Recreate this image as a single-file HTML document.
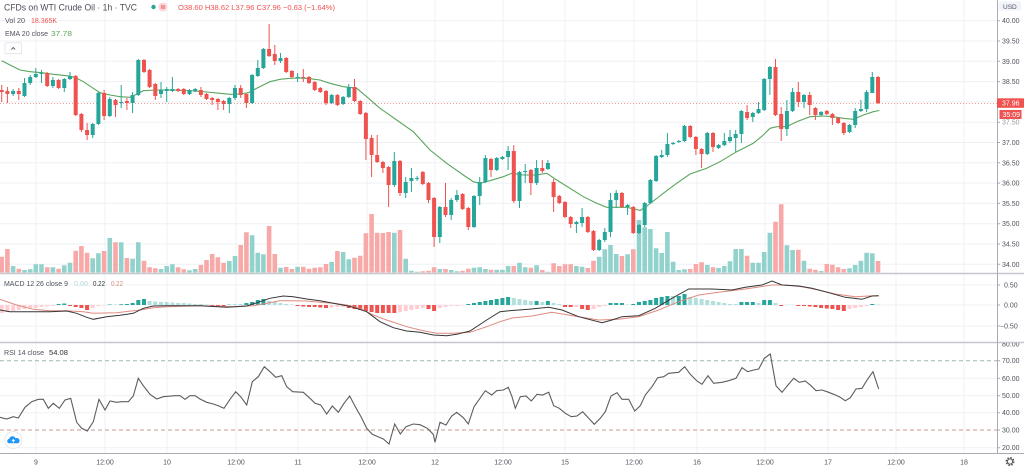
<!DOCTYPE html>
<html><head><meta charset="utf-8"><style>
html,body{margin:0;padding:0;background:#fff;width:1024px;height:470px;overflow:hidden}
svg{display:block}
text{font-family:"Liberation Sans",Arial,sans-serif}
.ax{font-size:7px;fill:#50535e}
</style></head><body>
<svg width="1024" height="470" viewBox="0 0 1024 470" xmlns="http://www.w3.org/2000/svg">
<defs>
<clipPath id="cm"><rect x="0" y="0" width="997" height="273"/></clipPath>
<clipPath id="cd"><rect x="0" y="274" width="997" height="68"/></clipPath>
<clipPath id="cr"><rect x="0" y="343" width="1024" height="110"/></clipPath>
</defs>
<rect width="1024" height="470" fill="#fff"/>
<!-- vertical grid -->
<g stroke="#eef0f5" stroke-width="1">
<path d="M36 0V453M105 0V453M167 0V453M236 0V453M298 0V453M367 0V453M435 0V453M503 0V453M565 0V453M634 0V453M697 0V453M765 0V453M828 0V453M896 0V453M964 0V453"/>
<!-- main horizontal grid -->
<path d="M0 20.7H997M0 41H997M0 61.3H997M0 81.6H997M0 101.9H997M0 122.2H997M0 142.5H997M0 162.8H997M0 183.1H997M0 203.4H997M0 223.7H997M0 244H997M0 264.3H997"/>
<!-- macd grid -->
<path d="M0 285H997M0 305H997M0 326H997"/>
<!-- rsi grid -->
<path d="M0 378.3H997M0 395.7H997M0 412.7H997M0 447.7H997"/>
</g>

<g clip-path="url(#cm)">
<!-- volume -->
<path fill="#92d2cc" d="M10.8 266h4.6V272.5h-4.6zM22.2 270h4.6V272.5h-4.6zM27.9 269.3h4.6V272.5h-4.6zM33.5 264.3h4.6V272.5h-4.6zM39.2 264.3h4.6V272.5h-4.6zM50.6 267.3h4.6V272.5h-4.6zM62 265.3h4.6V272.5h-4.6zM67.7 262.7h4.6V272.5h-4.6zM90.4 258.3h4.6V272.5h-4.6zM96.1 253.3h4.6V272.5h-4.6zM107.5 238h4.6V272.5h-4.6zM118.9 242.3h4.6V272.5h-4.6zM130.3 258.7h4.6V272.5h-4.6zM136 242.3h4.6V272.5h-4.6zM158.7 269h4.6V272.5h-4.6zM164.4 266h4.6V272.5h-4.6zM170.1 264.3h4.6V272.5h-4.6zM187.2 270.3h4.6V272.5h-4.6zM192.9 269h4.6V272.5h-4.6zM227 261h4.6V272.5h-4.6zM232.7 256h4.6V272.5h-4.6zM249.8 235.3h4.6V272.5h-4.6zM255.5 252.7h4.6V272.5h-4.6zM261.1 254.3h4.6V272.5h-4.6zM278.2 267.7h4.6V272.5h-4.6zM295.3 266.7h4.6V272.5h-4.6zM329.4 262h4.6V272.5h-4.6zM340.8 252h4.6V272.5h-4.6zM346.5 259.3h4.6V272.5h-4.6zM392 232.7h4.6V272.5h-4.6zM403.4 258.7h4.6V272.5h-4.6zM409.1 270.7h4.6V272.5h-4.6zM414.8 271.7h4.6V272.5h-4.6zM437.5 269h4.6V272.5h-4.6zM448.9 270h4.6V272.5h-4.6zM454.6 271.3h4.6V272.5h-4.6zM471.7 267.7h4.6V272.5h-4.6zM477.4 267.3h4.6V272.5h-4.6zM483.1 269h4.6V272.5h-4.6zM494.4 269.7h4.6V272.5h-4.6zM500.1 269.7h4.6V272.5h-4.6zM505.8 266h4.6V272.5h-4.6zM517.2 262.7h4.6V272.5h-4.6zM522.9 267.3h4.6V272.5h-4.6zM534.3 265.3h4.6V272.5h-4.6zM545.6 271.7h4.6V272.5h-4.6zM574.1 266h4.6V272.5h-4.6zM579.8 266.7h4.6V272.5h-4.6zM596.9 256.7h4.6V272.5h-4.6zM602.5 249.3h4.6V272.5h-4.6zM608.2 245h4.6V272.5h-4.6zM613.9 254h4.6V272.5h-4.6zM625.3 254.3h4.6V272.5h-4.6zM636.7 220h4.6V272.5h-4.6zM642.4 227.3h4.6V272.5h-4.6zM648.1 229h4.6V272.5h-4.6zM653.8 248.3h4.6V272.5h-4.6zM659.4 253h4.6V272.5h-4.6zM665.1 232h4.6V272.5h-4.6zM670.8 261.7h4.6V272.5h-4.6zM676.5 270h4.6V272.5h-4.6zM682.2 269.3h4.6V272.5h-4.6zM705 265h4.6V272.5h-4.6zM716.3 268h4.6V272.5h-4.6zM722 266h4.6V272.5h-4.6zM727.7 261.3h4.6V272.5h-4.6zM733.4 249h4.6V272.5h-4.6zM739.1 249h4.6V272.5h-4.6zM750.5 262.7h4.6V272.5h-4.6zM756.2 262.7h4.6V272.5h-4.6zM761.9 252h4.6V272.5h-4.6zM767.6 232.7h4.6V272.5h-4.6zM784.6 245.3h4.6V272.5h-4.6zM790.3 250h4.6V272.5h-4.6zM801.7 260.7h4.6V272.5h-4.6zM818.8 271h4.6V272.5h-4.6zM847.2 268.3h4.6V272.5h-4.6zM852.9 265h4.6V272.5h-4.6zM858.6 260.7h4.6V272.5h-4.6zM864.3 252.7h4.6V272.5h-4.6zM870 253.3h4.6V272.5h-4.6z"/>
<path fill="#f7a9a7" d="M-0.6 256.7h4.6V272.5h-4.6zM5.1 249h4.6V272.5h-4.6zM16.5 268.7h4.6V272.5h-4.6zM44.9 267.3h4.6V272.5h-4.6zM56.3 268.7h4.6V272.5h-4.6zM73.4 250.7h4.6V272.5h-4.6zM79.1 246h4.6V272.5h-4.6zM84.8 252.7h4.6V272.5h-4.6zM101.8 251h4.6V272.5h-4.6zM113.2 242.3h4.6V272.5h-4.6zM124.6 258h4.6V272.5h-4.6zM141.7 260.7h4.6V272.5h-4.6zM147.3 267.3h4.6V272.5h-4.6zM153 268.3h4.6V272.5h-4.6zM175.8 267.3h4.6V272.5h-4.6zM181.5 269.3h4.6V272.5h-4.6zM198.6 265h4.6V272.5h-4.6zM204.2 260h4.6V272.5h-4.6zM209.9 254h4.6V272.5h-4.6zM215.6 257.3h4.6V272.5h-4.6zM221.3 262.7h4.6V272.5h-4.6zM238.4 245h4.6V272.5h-4.6zM244.1 232.3h4.6V272.5h-4.6zM266.8 226h4.6V272.5h-4.6zM272.5 254h4.6V272.5h-4.6zM283.9 267h4.6V272.5h-4.6zM289.6 269h4.6V272.5h-4.6zM301 266.7h4.6V272.5h-4.6zM306.7 268.7h4.6V272.5h-4.6zM312.4 267.7h4.6V272.5h-4.6zM318 267.3h4.6V272.5h-4.6zM323.7 264h4.6V272.5h-4.6zM335.1 251h4.6V272.5h-4.6zM352.2 257.7h4.6V272.5h-4.6zM357.9 255.7h4.6V272.5h-4.6zM363.6 233.3h4.6V272.5h-4.6zM369.3 214h4.6V272.5h-4.6zM374.9 232.7h4.6V272.5h-4.6zM380.6 233h4.6V272.5h-4.6zM386.3 232h4.6V272.5h-4.6zM397.7 230h4.6V272.5h-4.6zM420.5 271.3h4.6V272.5h-4.6zM426.2 270.7h4.6V272.5h-4.6zM431.8 267.3h4.6V272.5h-4.6zM443.2 269h4.6V272.5h-4.6zM460.3 270.7h4.6V272.5h-4.6zM466 268.7h4.6V272.5h-4.6zM488.7 269.7h4.6V272.5h-4.6zM511.5 266h4.6V272.5h-4.6zM528.6 267.7h4.6V272.5h-4.6zM540 270h4.6V272.5h-4.6zM551.3 263.3h4.6V272.5h-4.6zM557 266h4.6V272.5h-4.6zM562.7 264.3h4.6V272.5h-4.6zM568.4 264.3h4.6V272.5h-4.6zM585.5 268h4.6V272.5h-4.6zM591.2 260.7h4.6V272.5h-4.6zM619.6 256h4.6V272.5h-4.6zM631 249.3h4.6V272.5h-4.6zM687.9 269h4.6V272.5h-4.6zM693.6 264h4.6V272.5h-4.6zM699.3 262.3h4.6V272.5h-4.6zM710.7 267.3h4.6V272.5h-4.6zM744.8 255.7h4.6V272.5h-4.6zM773.2 221.7h4.6V272.5h-4.6zM778.9 204.3h4.6V272.5h-4.6zM796 249.7h4.6V272.5h-4.6zM807.4 268.7h4.6V272.5h-4.6zM813.1 269.7h4.6V272.5h-4.6zM824.5 264h4.6V272.5h-4.6zM830.1 264.7h4.6V272.5h-4.6zM835.8 267.3h4.6V272.5h-4.6zM841.5 269h4.6V272.5h-4.6zM875.7 261h4.6V272.5h-4.6z"/>

<!-- price line -->
<path d="M0 103.5H997" stroke="#ef5350" stroke-opacity=".6" stroke-width="1" stroke-dasharray="1 2"/>

<!-- EMA -->
<polyline fill="none" stroke="#5aa65c" stroke-width="1.1" points="1.7,60.7 10,65 20,70 30,71.7 41.7,72.7 53.3,74.3 66.7,75.7 75,77.3 83.3,81.7 93.3,88.3 100,92.7 110,95 120,96.7 130,97.3 135,95 143.3,90.7 156.7,90 173.3,90 193.3,91 206.7,92 220,93.3 230,94.3 240,94 248.3,92.7 253.3,90 263.3,85 270,81.7 280,79.3 290,78.3 300,78 310,78.7 320,80 330,83.3 343.3,86.7 356.7,88.3 366.7,96.7 380,108.3 396.7,120 413.3,131.7 430,150 446.7,163.3 463.3,175 473.3,181.7 480,183.3 490,180.7 503.3,176.7 511.7,173.3 523.3,175 536.7,175 546.7,173.3 556.7,180 570,188.3 583.3,196.7 596.7,203.3 606.7,207.3 616.7,207.3 626.7,207.3 636.7,209.5 640,210.5 645,207.5 650,203.5 656.7,198.5 663.3,193.3 676.7,183.3 690,174 706.7,168.3 720,161.7 736.7,151.7 753.3,143.3 763.3,135 770,128.3 776.7,126.7 786.7,126.7 796.7,121.7 810,116.7 823.3,116 833.3,116.7 843.3,118.3 853.3,119.3 863.3,115 873.3,111.7 879.3,110.5"/>

<!-- green candles -->
<path stroke="#26a69a" stroke-width="1" fill="none" d="M13.1 89V96M24.5 78V97M30.2 75V85M35.8 68V78M41.5 70V83M52.9 77V88M64.3 78V92M70 72V80M92.7 123V138M98.4 92V125M109.8 97V117M121.2 85V108M132.6 92V113M138.3 59V96M161 82V98M166.7 87V102M172.4 77V92M189.5 89V95M195.2 88V92M229.3 97V113M235 85V100M252.1 74V104M257.8 60V77M263.4 48V69M280.5 53V63M297.6 73V82M331.7 94V104M343.1 96V105M348.8 84V98M394.3 152V187M405.7 177V198M411.4 168V192M417.1 176V181M439.8 206V243M451.2 198V220M456.9 190V202M474 195V228M479.7 177V205M485.4 155V183M496.7 157V171M502.4 156V160M508.1 146V170M519.5 171V208M525.2 164V183M536.6 160V185M547.9 160V170M576.4 221V233M582.1 208V227M599.2 239V251M604.8 228V242M610.5 193V237M616.2 190V208M627.6 204V215M639 224V234M644.7 202V227M650.4 179V204M656.1 155V182M661.7 150V158M667.4 133V157M673.1 142V145M678.8 140V143M684.5 125V142M707.3 132V155M718.6 144V149M724.3 133V146M730 130V143M735.7 130V152M741.4 110V143M752.8 112V122M758.5 102V114M764.2 78V111M769.9 66V95M786.9 100V136M792.6 88V112M804 94V108M821.1 111V116M849.5 124V133M855.2 108V128M860.9 100V112M866.6 90V112M872.3 72V93"/>
<path fill="#26a69a" d="M11.1 91h4v3h-4zM22.5 83h4v13h-4zM28.2 77h4v6h-4zM33.8 74h4v3h-4zM39.5 73h4v1h-4zM50.9 80h4v6h-4zM62.3 79h4v9h-4zM68 76h4v3h-4zM90.7 124h4v11h-4zM96.4 93h4v31h-4zM107.8 99h4v17h-4zM119.2 102h4v1h-4zM130.6 95h4v8h-4zM136.3 60h4v35h-4zM159 90h4v4h-4zM164.7 89h4v2h-4zM170.4 89h4v2h-4zM187.5 90h4v4h-4zM193.2 89h4v2h-4zM227.3 98h4v6h-4zM233 88h4v10h-4zM250.1 75h4v28h-4zM255.8 68h4v8h-4zM261.4 49h4v19h-4zM278.5 58h4v3h-4zM295.6 77h4v1h-4zM329.7 95h4v8h-4zM341.1 97h4v7h-4zM346.8 87h4v10h-4zM392.3 161h4v24h-4zM403.7 182h4v11h-4zM409.4 178h4v3h-4zM415.1 178h4v1h-4zM437.8 207h4v30h-4zM449.2 200h4v15h-4zM454.9 195h4v5h-4zM472 196h4v31h-4zM477.7 182h4v14h-4zM483.4 158h4v24h-4zM494.7 158h4v12h-4zM500.4 157h4v2h-4zM506.1 151h4v6h-4zM517.5 172h4v29h-4zM523.2 171h4v1h-4zM534.6 168h4v15h-4zM545.9 163h4v6h-4zM574.4 222h4v2h-4zM580.1 217h4v6h-4zM597.2 240h4v10h-4zM602.8 232h4v8h-4zM608.5 200h4v32h-4zM614.2 193h4v7h-4zM625.6 205h4v2h-4zM637 225h4v8h-4zM642.7 203h4v22h-4zM648.4 180h4v23h-4zM654.1 156h4v25h-4zM659.7 155h4v2h-4zM665.4 144h4v11h-4zM671.1 143h4v1h-4zM676.8 141h4v1h-4zM682.5 126h4v15h-4zM705.3 133h4v21h-4zM716.6 145h4v3h-4zM722.3 141h4v4h-4zM728 137h4v4h-4zM733.7 134h4v4h-4zM739.4 111h4v23h-4zM750.8 113h4v4h-4zM756.5 109h4v4h-4zM762.2 79h4v31h-4zM767.9 67h4v12h-4zM784.9 111h4v18h-4zM790.6 92h4v19h-4zM802 95h4v7h-4zM819.1 112h4v3h-4zM847.5 125h4v7h-4zM853.2 111h4v14h-4zM858.9 109h4v2h-4zM864.6 92h4v17h-4zM870.3 77h4v16h-4z"/>
<!-- red candles -->
<path stroke="#ef5350" stroke-width="1" fill="none" d="M1.7 85V102M7.4 87V103M18.8 88V100M47.2 72V87M58.6 79V89M75.7 75V116M81.4 113V132M87.1 123V140M104.1 90V120M115.5 99V117M126.9 98V110M144 59V73M149.6 69V88M155.3 83V100M178.1 88V92M183.8 88V95M200.9 87V97M206.5 93V100M212.2 97V105M217.9 98V110M223.6 100V110M240.7 85V98M246.4 93V108M269.1 24V57M274.8 45V65M286.2 57V73M291.9 70V78M303.3 69V82M309 76V84M314.7 81V91M320.3 87V93M326 90V105M337.4 94V106M354.5 79V102M360.2 100V115M365.9 112V160M371.6 135V177M377.2 135V163M382.9 161V173M388.6 166V207M400 160V196M422.8 171V185M428.5 182V203M434.1 197V247M445.5 183V217M462.6 193V210M468.3 207V230M491 158V177M513.8 145V203M530.9 169V195M542.3 160V173M553.6 179V212M559.3 195V204M565 201V218M570.7 216V228M587.8 216V233M593.5 230V251M621.9 192V208M633.3 206V234M690.2 125V138M695.9 136V155M701.6 148V168M713 132V152M747.1 105V120M775.5 59V116M781.2 107V141M798.3 82V107M809.7 92V115M815.4 107V120M826.8 110V115M832.4 113V125M838.1 117V124M843.8 122V135M878 76V104"/>
<path fill="#ef5350" d="M-0.3 90h4v2h-4zM5.4 91h4v3h-4zM16.8 91h4v3h-4zM45.2 73h4v13h-4zM56.6 80h4v8h-4zM73.7 76h4v39h-4zM79.4 114h4v16h-4zM85.1 130h4v5h-4zM102.1 93h4v23h-4zM113.5 100h4v5h-4zM124.9 101h4v2h-4zM142 60h4v12h-4zM147.6 70h4v17h-4zM153.3 84h4v12h-4zM176.1 89h4v2h-4zM181.8 89h4v5h-4zM198.9 90h4v5h-4zM204.5 94h4v5h-4zM210.2 98h4v2h-4zM215.9 99h4v3h-4zM221.6 101h4v3h-4zM238.7 88h4v7h-4zM244.4 94h4v9h-4zM267.1 49h4v7h-4zM272.8 54h4v7h-4zM284.2 58h4v14h-4zM289.9 71h4v6h-4zM301.3 77h4v1h-4zM307 77h4v6h-4zM312.7 82h4v8h-4zM318.3 88h4v4h-4zM324 91h4v12h-4zM335.4 95h4v10h-4zM352.5 87h4v14h-4zM358.2 101h4v13h-4zM363.9 113h4v26h-4zM369.6 138h4v17h-4zM375.2 155h4v7h-4zM380.9 162h4v6h-4zM386.6 167h4v18h-4zM398 161h4v32h-4zM420.8 172h4v12h-4zM426.5 183h4v17h-4zM432.1 198h4v39h-4zM443.5 207h4v8h-4zM460.6 194h4v15h-4zM466.3 208h4v19h-4zM489 159h4v11h-4zM511.8 151h4v50h-4zM528.9 170h4v13h-4zM540.3 168h4v3h-4zM551.6 182h4v15h-4zM557.3 196h4v7h-4zM563 202h4v15h-4zM568.7 217h4v7h-4zM585.8 217h4v15h-4zM591.5 231h4v19h-4zM619.9 193h4v14h-4zM631.3 207h4v26h-4zM688.2 126h4v11h-4zM693.9 137h4v12h-4zM699.6 149h4v5h-4zM711 133h4v14h-4zM745.1 112h4v6h-4zM773.5 67h4v48h-4zM779.2 114h4v15h-4zM796.3 92h4v10h-4zM807.7 95h4v10h-4zM813.4 108h4v7h-4zM824.8 111h4v3h-4zM830.4 114h4v4h-4zM836.1 118h4v5h-4zM841.8 123h4v10h-4zM876 77h4v26h-4z"/>
</g>

<!-- MACD pane -->
<g clip-path="url(#cd)">
<path fill="#ffcdd2" d="M-0.3 305h4v8h-4zM5.4 305h4v7h-4zM11.1 305h4v6h-4zM16.8 305h4v5h-4zM22.5 305h4v4h-4zM28.2 305h4v3h-4zM33.8 305h4v3h-4zM39.5 305h4v2h-4zM45.2 305h4v1.5h-4zM50.9 305h4v1h-4zM90.7 305h4v3h-4zM96.4 305h4v1h-4zM102.1 305h4v.5h-4zM329.7 305h4v2.5h-4zM335.4 305h4v2h-4zM341.1 305h4v2h-4zM398 305h4v7h-4zM403.7 305h4v6h-4zM409.4 305h4v5h-4zM415.1 305h4v4h-4zM420.8 305h4v3h-4zM437.8 305h4v3h-4zM443.5 305h4v2h-4zM449.2 305h4v1h-4zM454.9 305h4v1h-4zM460.6 305h4v.5h-4zM574.4 305h4v2h-4zM591.5 305h4v4h-4zM597.2 305h4v2h-4zM602.8 305h4v1h-4zM847.5 305h4v4h-4zM853.2 305h4v3h-4zM858.9 305h4v2h-4zM864.6 305h4v1h-4z"/>
<path fill="#ef5350" d="M68 305h4v1h-4zM73.7 305h4v2h-4zM79.4 305h4v3h-4zM85.1 305h4v5h-4zM210.2 305h4v1h-4zM215.9 305h4v2h-4zM221.6 305h4v2h-4zM295.6 305h4v1h-4zM301.3 305h4v1.5h-4zM307 305h4v2h-4zM312.7 305h4v2h-4zM318.3 305h4v2.5h-4zM324 305h4v3h-4zM346.8 305h4v3h-4zM352.5 305h4v4h-4zM358.2 305h4v5h-4zM363.9 305h4v6h-4zM369.6 305h4v7h-4zM375.2 305h4v8h-4zM380.9 305h4v8h-4zM386.6 305h4v8h-4zM392.3 305h4v8h-4zM426.5 305h4v4h-4zM432.1 305h4v6h-4zM563 305h4v2h-4zM568.7 305h4v2h-4zM580.1 305h4v4h-4zM585.8 305h4v5h-4zM779.2 305h4v1h-4zM796.3 305h4v1h-4zM802 305h4v1h-4zM807.7 305h4v1.5h-4zM813.4 305h4v2h-4zM819.1 305h4v3h-4zM824.8 305h4v3.5h-4zM830.4 305h4v4h-4zM836.1 305h4v5h-4zM841.8 305h4v6h-4z"/>
<path fill="#26a69a" d="M56.6 304h4v1h-4zM62.3 303.5h4v1.5h-4zM107.8 304.5h4v.5h-4zM119.2 304.3h4v.7h-4zM124.9 304h4v1h-4zM130.6 303h4v2h-4zM136.3 300h4v5h-4zM142 299h4v6h-4zM244.4 303h4v2h-4zM250.1 302h4v3h-4zM255.8 300h4v5h-4zM261.4 299h4v6h-4zM466.3 304h4v1h-4zM472 303h4v2h-4zM477.7 302h4v3h-4zM483.4 301h4v4h-4zM489 300h4v5h-4zM494.7 299h4v6h-4zM500.4 298h4v7h-4zM506.1 297h4v8h-4zM534.6 301h4v4h-4zM545.9 301h4v4h-4zM608.5 303h4v2h-4zM614.2 303h4v2h-4zM619.9 303h4v2h-4zM631.3 304h4v1h-4zM637 302h4v3h-4zM642.7 301h4v4h-4zM648.4 300h4v5h-4zM654.1 298h4v7h-4zM659.7 297h4v8h-4zM665.4 296h4v9h-4zM676.8 296h4v9h-4zM682.5 294h4v11h-4zM739.4 302h4v3h-4zM745.1 302h4v3h-4zM750.8 302h4v3h-4zM762.2 300h4v5h-4zM767.9 300h4v5h-4zM870.3 304h4v1h-4z"/>
<path fill="#b2dfdb" d="M113.5 304.5h4v.5h-4zM147.6 301h4v4h-4zM153.3 301.5h4v3.5h-4zM159 302h4v3h-4zM164.7 302h4v3h-4zM170.4 302.5h4v2.5h-4zM176.1 303h4v2h-4zM181.8 303h4v2h-4zM187.5 303.5h4v1.5h-4zM193.2 304h4v1h-4zM198.9 304h4v1h-4zM204.5 304.5h4v.5h-4zM227.3 304h4v1h-4zM233 304h4v1h-4zM238.7 304h4v1h-4zM267.1 301h4v4h-4zM272.8 302h4v3h-4zM278.5 303h4v2h-4zM284.2 304h4v1h-4zM289.9 304.5h4v.5h-4zM511.8 298h4v7h-4zM517.5 299h4v6h-4zM523.2 300h4v5h-4zM528.9 301h4v4h-4zM540.3 302h4v3h-4zM551.6 303h4v2h-4zM557.3 304h4v1h-4zM625.6 304.5h4v.5h-4zM671.1 296h4v9h-4zM688.2 297h4v8h-4zM693.9 298h4v7h-4zM699.6 299h4v6h-4zM705.3 300h4v5h-4zM711 301h4v4h-4zM716.6 302h4v3h-4zM722.3 303h4v2h-4zM728 304h4v1h-4zM733.7 304h4v1h-4zM756.5 303h4v2h-4zM773.5 303h4v2h-4zM784.9 304.7h4v.3h-4zM790.6 304.7h4v.3h-4zM876 304.5h4v.5h-4z"/>
<polyline fill="none" stroke="#e08a80" stroke-width="1" points="0,299.3 16.7,305 33.3,309.3 50,310.7 66.7,310.7 83.3,311.7 93.3,313.3 116.7,312.7 140,310 153.3,307.7 166.7,306.7 200,305.7 233.3,306.7 253.3,305.7 266.7,303.3 280,300.7 293.3,300.7 306.7,301 320,302.3 333.3,303.3 346.7,305 360,308.3 373.3,315 386.7,320 406.7,326.7 423.3,330.7 436.7,333.3 453.3,333.3 470,332.3 486.7,326.7 500,321.7 512,318 532,316 552,312.3 578.7,316.7 598.7,320 618.7,319.3 638.7,316.7 658.7,310 678.7,301.7 698.7,295 718.7,292.3 745.3,289 772,285 785.3,285 802,286.7 818.7,290 835.3,294 855.3,296.7 868.7,296 878.7,295.7"/>
<polyline fill="none" stroke="#363636" stroke-width="1" points="0,310 10,311.7 20,311.7 33.3,311.7 50,311.7 66.7,311 76.7,313.3 86.7,317.3 93.3,319.3 106.7,316.7 120,315.3 133.3,313.3 143.3,308.3 153.3,306 166.7,305.7 200,305.7 226.7,307.3 246.7,306 260,301.7 270,298.3 283.3,296 293.3,296.7 306.7,299 320,300.7 333.3,303.3 346.7,305.7 353.3,307.3 366.7,311.7 380,321.7 393.3,327.7 406.7,331 420,332.3 433.3,335 446.7,335.7 456.7,334.3 470,331 486.7,320 500,311.7 512,310.5 528.7,309.3 548.7,307.3 562,310 578.7,316.7 602,322.7 612,320 622,316.7 638.7,315.7 655.3,308.3 672,298.3 688.7,289 698.7,289 712,289 732,290 745.3,287.3 762,285 772,281 782,285 798.7,286 812,288.3 828.7,292.7 845.3,297.3 862,299.3 872,296 878.7,295.7"/>
</g>

<!-- RSI pane -->
<path d="M0 360.7H997" stroke="#9bb5b2" stroke-width="1" stroke-dasharray="4 3"/>
<path d="M0 430H997" stroke="#c99a95" stroke-width="1" stroke-dasharray="4 3"/>
<polyline fill="none" stroke="#5d5d5d" stroke-width="1.1" points="0,417.3 6.7,419 13.3,416.7 18.3,418 25,407.3 31.7,401.7 38.3,399.3 43.3,399.3 48.3,408.3 53.3,403.3 59.3,408.3 65,400 70.7,398.3 76.7,422.3 81.7,428.3 87.3,431 93.3,421.7 99,399.3 105,410 110,401 116.7,402.3 121.7,401.7 128.3,401.7 133.3,396 138.3,378.3 143.3,385.7 150,394.3 156.7,399 163.3,396.7 175,395.7 180,395.7 185,399.3 190,395.7 195,395.7 200,399 206.7,402.3 213.3,404 218.3,405.7 224,408.3 230,399.3 235.7,391.7 240.7,396.7 246.7,405 252.3,381.7 258.3,376.7 264.3,366.7 270,371.7 275.7,377.3 281.7,375.7 286.7,386.7 292.7,391.7 303.3,392.3 310,398.3 315,403.3 320.7,405 326.7,414 332.3,406 338.3,412.3 344,403.3 349.7,396 355.3,406.7 361,416.7 366.7,428.3 372.3,434.3 378,436.7 383.3,439 389,444 394.7,424 400.3,434 406,426.7 413.3,424 420,424.7 427.3,428.3 433.3,434.3 435,442.3 440,422.3 446,425 451.7,416 456.7,412.3 463.3,417.7 468.3,424 474,406.7 480,398.3 485.3,390.7 491.7,395 496.7,390.7 503.3,390 508.3,387.3 512,396.7 515.3,408.3 520.3,396.7 526,396 531.3,401 537,394.3 542.7,395 548.7,392.3 553.7,405.7 559.3,408.3 565.3,413.3 571.3,416.7 577,416 582.7,411.7 588.7,418.3 594.3,424.3 600.3,418.3 605.3,411.7 611,396 617,392.7 622,399.3 628.7,399.3 634.7,411 640.3,405.7 645.3,395 652,386.7 657.7,377.7 663.7,376.7 668.7,373.3 678.7,372.3 684.7,366.7 690.3,374.3 697,381 702,384.3 708,375.7 713.7,383.3 722,382.3 728.7,380.7 736,378.3 742,367.7 747.7,371.7 753.7,370 758.7,369 764.3,358.3 770.3,354 776,385.7 782,392.3 788,385 793.7,378.3 799.3,382.3 805.3,381 811,385.7 816,390.7 822,390 827,391.7 833.7,394.3 839.3,396.7 845.3,400.7 850.3,397.7 856,389 862,388.3 867.7,379 873,371.7 878.7,389"/>

<!-- separators & axes -->
<path d="M0 273.5H1024M0 342.5H1024" stroke="#c5c7cd" stroke-width="1.5"/>
<path d="M0 453.5H1024" stroke="#a8abb3" stroke-width="1"/>
<path d="M997.5 0V453.5" stroke="#a8abb3" stroke-width="1"/>
<g stroke="#a8abb3" stroke-width="1">
<path d="M997 20.7h3M997 41h3M997 61.3h3M997 81.6h3M997 122.2h3M997 142.5h3M997 162.8h3M997 183.1h3M997 203.4h3M997 223.7h3M997 244h3M997 264.3h3M997 285h3M997 305h3M997 326h3M997 360.7h3M997 378.3h3M997 395.7h3M997 412.7h3M997 430h3M997 447.7h3"/>
</g>

<!-- price axis labels -->
<g class="ax">
<text x="1002" y="23.2">40.00</text>
<text x="1002" y="43.5">39.50</text>
<text x="1002" y="63.8">39.00</text>
<text x="1002" y="84.1">38.50</text>
<text x="1002" y="124.7" opacity=".6">37.50</text>
<text x="1002" y="145">37.00</text>
<text x="1002" y="165.3">36.50</text>
<text x="1002" y="185.6">36.00</text>
<text x="1002" y="205.9">35.50</text>
<text x="1002" y="226.2">35.00</text>
<text x="1002" y="246.5">34.50</text>
<text x="1002" y="266.8">34.00</text>
<text x="1004" y="287.5">0.50</text>
<text x="1004" y="307.5">0.00</text>
<text x="1000" y="328.5">−0.50</text>
</g>
<g class="ax" clip-path="url(#cr)">
<text x="1002" y="346.5">80.00</text>
<text x="1002" y="363.2">70.00</text>
<text x="1002" y="380.8">60.00</text>
<text x="1002" y="398.2">50.00</text>
<text x="1002" y="415.2">40.00</text>
<text x="1002" y="432.5">30.00</text>
<text x="1002" y="450.2">20.00</text>
</g>

<!-- USD -->
<rect x="999" y="1.5" width="22" height="9" rx="1.5" fill="#f0f3fa"/>
<text x="1003" y="8.8" font-size="6.5" fill="#50535e">USD</text>

<!-- price boxes -->
<rect x="997" y="98.3" width="27" height="9.5" fill="#ef5350"/>
<text x="1002" y="105.6" font-size="7" fill="#fff">37.96</text>
<rect x="999.5" y="110" width="22" height="9" fill="#ef5350"/>
<text x="1002.5" y="117" font-size="7" fill="#fff">35:09</text>

<!-- time axis -->
<g class="ax" text-anchor="middle">
<text x="36" y="464.5">9</text>
<text x="105" y="464.5">12:00</text>
<text x="167" y="464.5">10</text>
<text x="236" y="464.5">12:00</text>
<text x="298" y="464.5">11</text>
<text x="367" y="464.5">12:00</text>
<text x="435" y="464.5">12</text>
<text x="503" y="464.5">12:00</text>
<text x="565" y="464.5">15</text>
<text x="634" y="464.5">12:00</text>
<text x="697" y="464.5">16</text>
<text x="765" y="464.5">12:00</text>
<text x="828" y="464.5">17</text>
<text x="896" y="464.5">12:00</text>
<text x="964" y="464.5">18</text>
</g>

<!-- gear -->
<g transform="translate(1010 461.5)" fill="none" stroke="#555" >
<circle r="3.8" stroke-width="1.4" stroke-dasharray="1.6 1.4"/>
<circle r="2.6" stroke-width="1"/>
</g>

<!-- legends -->
<text x="4" y="10.5" font-size="9" fill="#4a4d57" textLength="133" lengthAdjust="spacingAndGlyphs">CFDs on WTI Crude Oil · 1h · TVC</text>
<circle cx="153.5" cy="7" r="2.2" fill="#26a69a"/>
<rect x="158.5" y="2.5" width="9" height="9" rx="4.5" fill="#fbd6dc"/>
<path d="M160.8 6H165.2M160.8 8H165.2" stroke="#ef5350" stroke-width="0.9"/>
<text x="178" y="10" font-size="7.5" fill="#ef5350" textLength="157" lengthAdjust="spacingAndGlyphs">O38.60 H38.62 L37.96 C37.96 −0.63 (−1.64%)</text>
<text x="5" y="23" font-size="7.5" fill="#50535e" textLength="20" lengthAdjust="spacingAndGlyphs">Vol 20</text>
<text x="31" y="23" font-size="7.5" fill="#ef5350" textLength="26" lengthAdjust="spacingAndGlyphs">18.365K</text>
<text x="5" y="36" font-size="7.5" fill="#50535e" textLength="43" lengthAdjust="spacingAndGlyphs">EMA 20 close</text>
<text x="51" y="36" font-size="7.5" fill="#5aa65c" textLength="21" lengthAdjust="spacingAndGlyphs">37.78</text>
<rect x="5" y="42.7" width="16.5" height="11" rx="1.5" fill="#fff" stroke="#e0e3eb" stroke-width="0.8"/>
<path d="M11.3 49.5L13.2 47.5L15.1 49.5" fill="none" stroke="#444" stroke-width="0.9"/>

<text x="4" y="286" font-size="7.5" fill="#50535e" textLength="64" lengthAdjust="spacingAndGlyphs">MACD 12 26 close 9</text>
<text x="74" y="286" font-size="7.5" fill="#b2dfdb" textLength="14" lengthAdjust="spacingAndGlyphs">0.00</text>
<text x="93" y="286" font-size="7.5" fill="#333" textLength="12" lengthAdjust="spacingAndGlyphs">0.22</text>
<text x="111" y="286" font-size="7.5" fill="#e08a80" textLength="12" lengthAdjust="spacingAndGlyphs">0.22</text>

<text x="4" y="355" font-size="7.5" fill="#50535e" textLength="40" lengthAdjust="spacingAndGlyphs">RSI 14 close</text>
<text x="49" y="355" font-size="7.5" fill="#333" textLength="19" lengthAdjust="spacingAndGlyphs">54.08</text>

<!-- cloud icon -->
<circle cx="13.3" cy="440" r="8.5" fill="#fff" stroke="#e6e8ee" stroke-width="1"/>
<path d="M8.6 443.3a2.3 2.3 0 0 1 0.6-4.4a3.3 3.3 0 0 1 6.3-0.6a2.5 2.5 0 0 1 2.6 5z" fill="#2196f3"/>
<path d="M13.3 442.6V439.6M11.9 441L13.3 439.5L14.7 441" fill="none" stroke="#fff" stroke-width="0.9"/>
</svg>
</body></html>
